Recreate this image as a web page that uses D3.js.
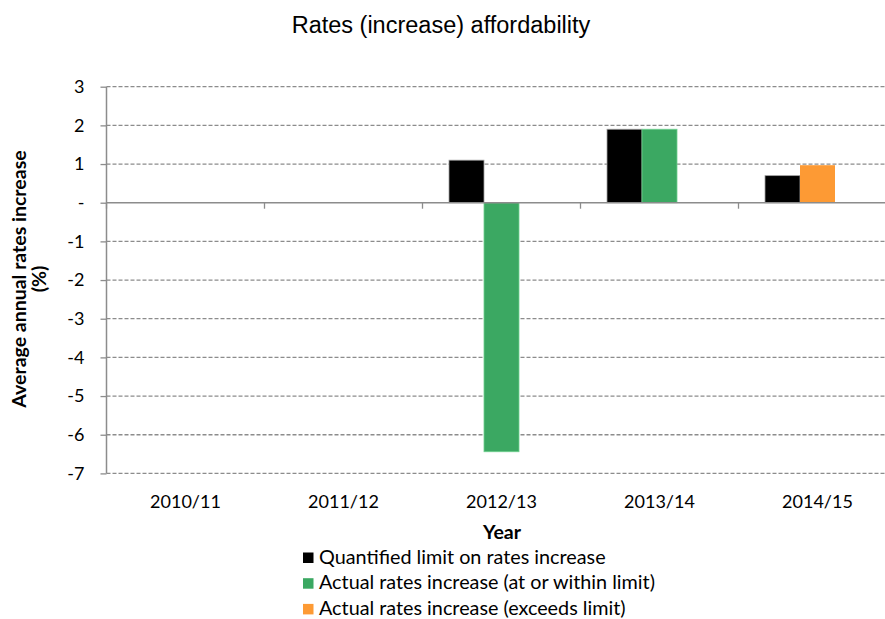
<!DOCTYPE html>
<html>
<head>
<meta charset="utf-8">
<script src="https://cdn.jsdelivr.net/npm/d3@7"></script>
<style>
  html, body { margin: 0; padding: 0; background: #fff; }
  svg { display: block; }
  text { font-family: Lato, "Open Sans", sans-serif; fill: #000; }
</style>
</head>
<body>
<svg id="chart" width="885" height="619"></svg>
<script>
// Financial years on the category axis
const years = ["2010/11", "2011/12", "2012/13", "2013/14", "2014/15"];
// Quantified limit on rates increase (%)
const limitValues = [null, null, 1.1, 1.9, 0.7];
// Actual rates increase at or within the limit (%)
const withinValues = [null, null, -6.44, 1.9, null];
// Actual rates increase exceeding the limit (%)
const exceedsValues = [null, null, null, null, 0.97];
// Y-axis ticks and their labels
const yTicks = [3, 2, 1, 0, -1, -2, -3, -4, -5, -6, -7];
const yTickLabels = ["3", "2", "1", "-", "-1", "-2", "-3", "-4", "-5", "-6", "-7"];

const legendItems = [
  { label: "Quantified limit on rates increase", color: "#000000" },
  { label: "Actual rates increase (at or within limit)", color: "#3ba862" },
  { label: "Actual rates increase (exceeds limit)", color: "#fd9a34" }
];

const svg = d3.select("#chart");
const gridColor = "#8c8c8c";

const plot = { left: 106.5, right: 896.5, top: 86.7, bottom: 473.4 };

const x = d3.scaleBand().domain(years).range([plot.left, plot.right]).padding(0);
// three series slots per year; both "actual" series share the middle slot
const slot = d3.scaleBand().domain(["limit", "actual", "spare"]).range([-52.5, 52.5]).padding(0);
const y = d3.scaleLinear().domain([-7, 3]).range([plot.bottom, plot.top]);

// Title
svg.append("text")
  .attr("x", 441).attr("y", 33)
  .attr("text-anchor", "middle")
  .style("font-family", "'Liberation Sans', Arial, sans-serif")
  .style("font-size", "23.5px")
  .text("Rates (increase) affordability");

// Dashed horizontal gridlines (except the zero line)
svg.append("g").selectAll("line")
  .data(yTicks.filter(d => d !== 0))
  .join("line")
  .attr("x1", plot.left).attr("x2", plot.right)
  .attr("y1", d => y(d)).attr("y2", d => y(d))
  .attr("stroke", gridColor)
  .attr("stroke-width", 1.3)
  .attr("stroke-dasharray", "4,2");

// Y axis
const yAxis = d3.axisLeft(y)
  .tickValues(yTicks)
  .tickFormat((d, i) => yTickLabels[i])
  .tickSize(6)
  .tickPadding(16);
const gy = svg.append("g")
  .attr("transform", `translate(${plot.left},0)`)
  .call(yAxis);
gy.select(".domain").attr("stroke", gridColor).attr("stroke-width", 1.5)
  .attr("d", `M0,${plot.top}V${plot.bottom}`);
gy.selectAll(".tick line").attr("stroke", gridColor).attr("stroke-width", 1.3);
gy.selectAll(".tick text")
  .style("font-family", "Lato, sans-serif")
  .style("font-size", "18px")
  .attr("fill", "#000");

// Bars
const bars = [];
years.forEach((yr, i) => {
  if (limitValues[i] != null) bars.push({ yr, key: "limit", v: limitValues[i], color: legendItems[0].color, stroke: "#a0a0a0" });
  if (withinValues[i] != null) bars.push({ yr, key: "actual", v: withinValues[i], color: legendItems[1].color, stroke: "#6fd08f" });
  if (exceedsValues[i] != null) bars.push({ yr, key: "actual", v: exceedsValues[i], color: legendItems[2].color, stroke: "none" });
});

svg.append("g").selectAll("rect")
  .data(bars)
  .join("rect")
  .attr("x", d => x(d.yr) + x.bandwidth() / 2 + slot(d.key))
  .attr("width", slot.bandwidth())
  .attr("y", d => Math.min(y(d.v), y(0)))
  .attr("height", d => Math.abs(y(d.v) - y(0)))
  .attr("fill", d => d.color)
  .attr("stroke", d => d.stroke)
  .attr("stroke-width", 0.8);

// X axis along zero, ticks at category boundaries
const xAxisG = svg.append("g");
xAxisG.append("line")
  .attr("x1", plot.left).attr("x2", plot.right)
  .attr("y1", y(0)).attr("y2", y(0))
  .attr("stroke", gridColor).attr("stroke-width", 1.5);
xAxisG.selectAll("line.tk")
  .data(years)
  .join("line")
  .attr("class", "tk")
  .attr("x1", d => x(d)).attr("x2", d => x(d))
  .attr("y1", y(0)).attr("y2", y(0) + 6)
  .attr("stroke", gridColor).attr("stroke-width", 1.3);

// Category labels below the plot
svg.append("g").selectAll("text")
  .data(years)
  .join("text")
  .attr("x", d => x(d) + x.bandwidth() / 2)
  .attr("y", 508)
  .attr("text-anchor", "middle")
  .style("font-size", "18px")
  .text(d => d);

// Axis titles
svg.append("text")
  .attr("x", 502).attr("y", 539)
  .attr("text-anchor", "middle")
  .style("font-weight", "bold")
  .style("font-size", "19.5px")
  .text("Year");

const yTitle = svg.append("text")
  .attr("transform", "translate(26,279) rotate(-90)")
  .attr("text-anchor", "middle")
  .style("font-weight", "bold")
  .style("font-size", "19.5px");
yTitle.append("tspan").attr("x", 0).attr("dy", 0).text("Average annual rates increase");
yTitle.append("tspan").attr("x", 0).attr("dy", 20).text("(%)");

// Legend
const legend = svg.append("g").selectAll("g")
  .data(legendItems)
  .join("g")
  .attr("transform", (d, i) => `translate(303,${552.5 + i * 25.7})`);
legend.append("rect")
  .attr("width", 10.5).attr("height", 10.5)
  .attr("fill", d => d.color);
legend.append("text")
  .attr("x", 16).attr("y", 11)
  .style("font-size", "19.8px")
  .text(d => d.label);
</script>
</body>
</html>
